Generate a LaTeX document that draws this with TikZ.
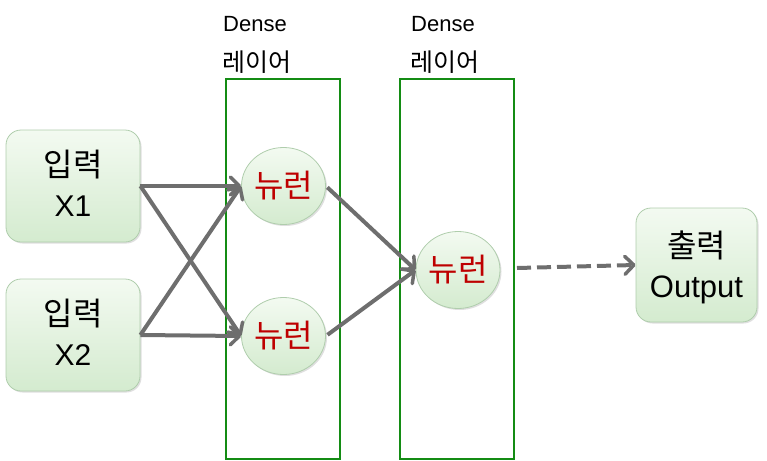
\documentclass[tikz,border=0pt]{standalone}
\usepackage{fontspec}
\setmainfont{Liberation Sans}
\newfontfamily\krfont{Noto Sans CJK KR}
\usetikzlibrary{shapes.geometric,arrows.meta,shadows}
\definecolor{boxtop}{RGB}{243,250,241}
\definecolor{boxbot}{RGB}{212,235,207}
\definecolor{boxline}{RGB}{175,205,172}
\definecolor{arr}{RGB}{110,110,110}
\definecolor{layer}{RGB}{20,140,20}
\definecolor{neutxt}{RGB}{190,0,0}
\tikzset{
  inbox/.style={draw=boxline, line width=0.8pt, rounded corners=15pt, top color=boxtop, bottom color=boxbot,
    minimum width=134pt, minimum height=112pt, inner sep=0pt,
    drop shadow={shadow xshift=1.5pt, shadow yshift=-1.5pt, opacity=0.25}},
  neuron/.style={ellipse, draw=boxline, line width=0.8pt, top color=boxtop, bottom color=boxbot,
    minimum width=84pt, minimum height=77pt, inner sep=0pt, text=neutxt, font=\krfont\fontsize{32}{36}\selectfont,
    drop shadow={shadow xshift=1.5pt, shadow yshift=-1.5pt, opacity=0.25}},
  krtxt/.style={inner sep=0pt, font=\krfont\fontsize{32}{36}\selectfont},
  latxt/.style={inner sep=0pt, anchor=base, font=\fontsize{30}{34}\selectfont},
  layerbox/.style={draw=layer, line width=2.5pt, minimum width=114pt, minimum height=380pt, inner sep=0pt},
  lbla/.style={anchor=west, inner sep=0pt, font=\fontsize{22}{24}\selectfont},
  lblb/.style={anchor=west, inner sep=0pt, font=\krfont\fontsize{25}{28}\selectfont},
  conn/.style={draw=arr, line width=4pt, -{Straight Barb[length=9pt,width=18pt,line width=3.5pt,round]}},
}
\begin{document}
\begin{tikzpicture}[x=1pt,y=-1pt]
\useasboundingbox (0,0) rectangle (767,460);
\node[lbla] (l1a) at (223,24) {Dense};
\node[lblb] (l1b) at (222,62) {레이어};
\node[lbla] (l2a) at (411,24) {Dense};
\node[lblb] (l2b) at (410,62) {레이어};
\node[layerbox] (L1) at (283,269) {};
\node[layerbox] (L2) at (457,269) {};
\node[inbox] (x1) at (73,186) {};
\node[krtxt] (x1a) at (73,165) {입력};
\node[latxt] (x1b) at (73,216) {X1};
\node[inbox] (x2) at (73,335) {};
\node[krtxt] (x2a) at (73,314) {입력};
\node[latxt] (x2b) at (73,365) {X2};
\node[neuron] (n1) at (283.5,186) {뉴런};
\node[neuron] (n2) at (283.5,336) {뉴런};
\node[neuron] (n3) at (458,270) {뉴런};
\node[inbox, minimum width=121pt, minimum height=114pt] (out) at (696.5,265) {};
\node[krtxt] (outa) at (696.5,245) {출력};
\node[latxt, font=\fontsize{31}{34}\selectfont] (outb) at (696.5,297) {Output};
\draw[conn] (x1.east) -- (n1.west);
\draw[conn] (x1.east) -- (n2.west);
\draw[conn] (x2.east) -- (n2.west);
\draw[conn] (x2.east) -- (n1.west);
\draw[conn, shorten <=2pt] (n1.east) -- (n3.west);
\draw[conn, shorten <=2pt] (n2.east) -- (n3.west);
\coordinate (d0) at (517,268);
\draw[conn, dash pattern=on 14pt off 6pt] (d0) -- (out.west);
\end{tikzpicture}
\end{document}
